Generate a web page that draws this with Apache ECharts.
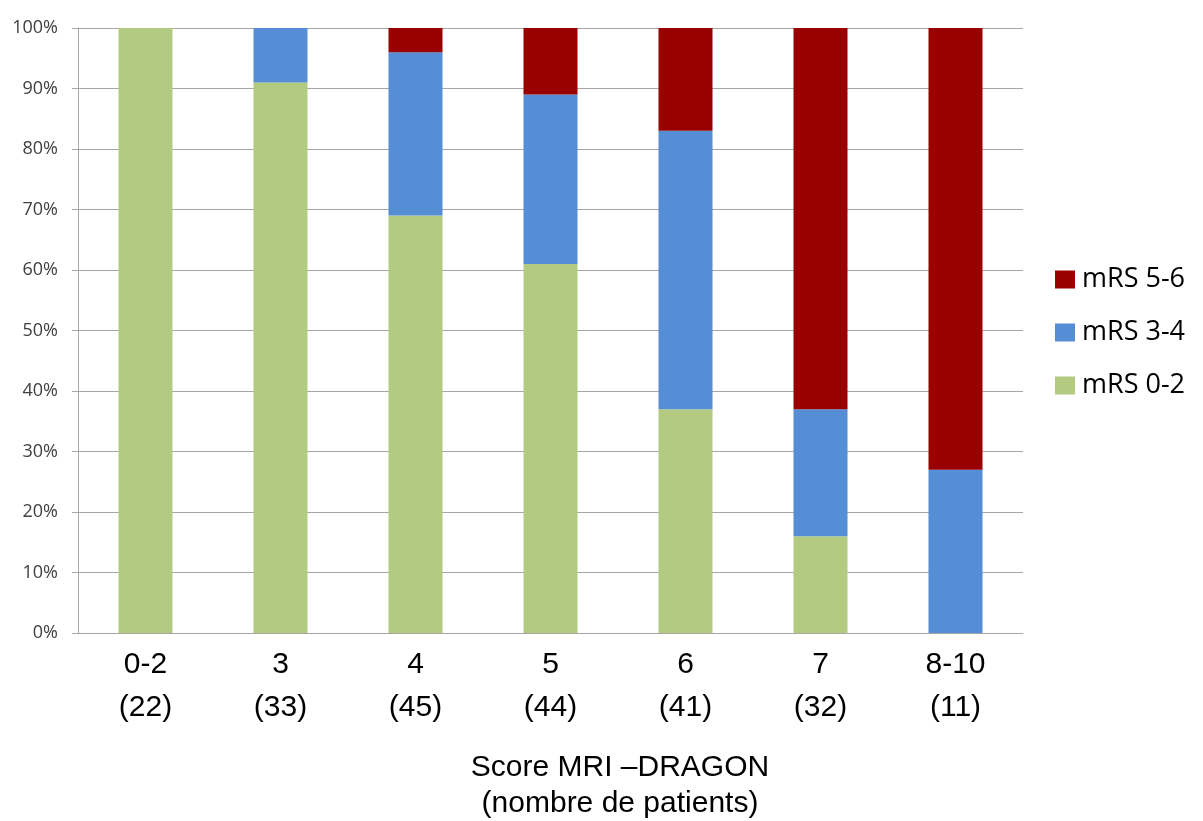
<!DOCTYPE html>
<html>
<head>
<meta charset="utf-8">
<script src="https://cdn.jsdelivr.net/npm/echarts@6/dist/echarts.min.js"></script>
<style>
html,body{margin:0;padding:0;background:#fff;}
#chart{width:1203px;height:821px;}
</style>
</head>
<body>
<div id="chart"></div>
<script>
const scores = ['0-2', '3', '4', '5', '6', '7', '8-10'];
const patients = [22, 33, 45, 44, 41, 32, 11];
const mrs02 = [100, 91, 69, 61, 37, 16, 0];
const mrs34 = [0, 9, 27, 28, 46, 21, 27];
const mrs56 = [0, 0, 4, 11, 17, 63, 73];
const yTicks = [0, 10, 20, 30, 40, 50, 60, 70, 80, 90, 100];
const seriesNames = ['mRS 0-2', 'mRS 3-4', 'mRS 5-6'];
const axisTitle = 'Score MRI \u2013DRAGON\n(nombre de patients)';

const categories = scores.map((s, i) => s + '\n(' + patients[i] + ')');

const chart = echarts.init(document.getElementById('chart'), null, {renderer: 'canvas'});
const colors = ['#B3CB80', '#558ED5', '#990000'];
const dataSets = [mrs02, mrs34, mrs56];

chart.setOption({
  animation: false,
  backgroundColor: '#fff',
  title: {
    text: axisTitle,
    left: 615,
    top: 745,
    textAlign: 'center',
    textStyle: {
      fontFamily: 'Liberation Sans',
      fontSize: 30,
      fontWeight: 'normal',
      lineHeight: 36,
      color: '#000'
    }
  },
  grid: {left: 78, right: 180, top: 28, bottom: 188, containLabel: false},
  legend: {
    orient: 'vertical',
    left: 1050,
    top: 261,
    itemWidth: 20,
    itemHeight: 18,
    itemGap: 26,
    icon: 'rect',
    data: [seriesNames[2], seriesNames[1], seriesNames[0]],
    textStyle: {fontFamily: 'Open Sans', fontSize: 27, color: '#000', padding: [0, 0, 0, 2]}
  },
  xAxis: {
    type: 'category',
    data: categories,
    axisLine: {lineStyle: {color: '#a6a6a6', width: 1}},
    axisTick: {show: false},
    axisLabel: {
      margin: 10,
      fontFamily: 'Liberation Sans',
      fontSize: 30,
      lineHeight: 43,
      color: '#000',
      interval: 0
    }
  },
  yAxis: {
    type: 'value',
    min: yTicks[0],
    max: yTicks[yTicks.length - 1],
    interval: 10,
    axisLine: {show: true, lineStyle: {color: '#a6a6a6', width: 1}},
    axisTick: {show: true, length: 6, lineStyle: {color: '#a6a6a6'}},
    splitLine: {lineStyle: {color: '#a6a6a6', width: 1}},
    axisLabel: {
      margin: 20,
      fontFamily: 'Open Sans',
      fontSize: 18,
      color: '#404040',
      formatter: v => v + '%'
    }
  },
  series: seriesNames.map((name, i) => ({
    name: name,
    type: 'bar',
    stack: 'total',
    barWidth: 54,
    itemStyle: {color: colors[i]},
    data: dataSets[i]
  }))
});
</script>
</body>
</html>
